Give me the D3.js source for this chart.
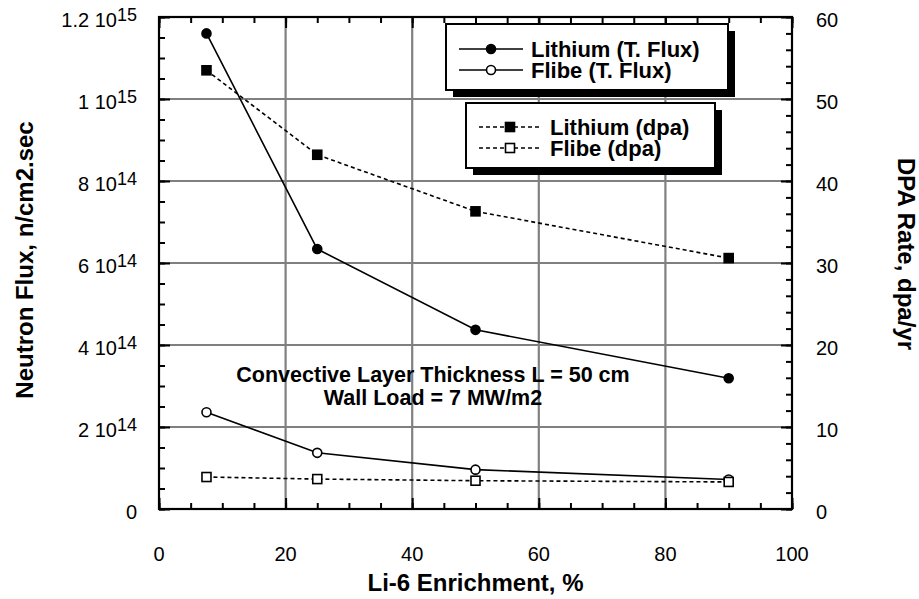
<!DOCTYPE html>
<html>
<head>
<meta charset="utf-8">
<script src="https://cdn.jsdelivr.net/npm/d3@7"></script>
<style>
  html, body { margin: 0; padding: 0; background: #fff; }
  svg { display: block; font-family: "Liberation Sans", Arial, Helvetica, sans-serif; }
</style>
</head>
<body>
<svg id="chart" width="919" height="599"></svg>
<script>
// Li-6 enrichment (%) at which each case was computed
const enrichment = [7.5, 25, 50, 90];

// Total neutron flux, n/cm2.sec (left axis)
const lithiumFlux = [1.16e15, 6.34e14, 4.37e14, 3.19e14];
const flibeFlux   = [2.36e14, 1.37e14, 0.96e14, 0.72e14];

// Damage rate, dpa/yr (right axis)
const lithiumDpa = [53.5, 43.2, 36.3, 30.6];
const flibeDpa   = [3.9, 3.65, 3.45, 3.3];

// Tick values
const xTicks = [0, 20, 40, 60, 80, 100];
const fluxTicks = [0, 2e14, 4e14, 6e14, 8e14, 1e15, 1.2e15];
const dpaTicks = [0, 10, 20, 30, 40, 50, 60];

const svg = d3.select("#chart");
const plotLeft = 159, plotRight = 792, plotTop = 17, plotBottom = 509;

const x = d3.scaleLinear().domain([0, 100]).range([plotLeft, plotRight]);
const yFlux = d3.scaleLinear().domain([0, 1.2e15]).range([plotBottom, plotTop]);
const yDpa = d3.scaleLinear().domain([0, 60]).range([plotBottom, plotTop]);

// Grid
const grid = svg.append("g").attr("stroke", "#808080").attr("stroke-width", 2.2);
grid.selectAll("line.vx").data(xTicks.filter(d => d > 0 && d < 100)).join("line")
  .attr("class", "vx")
  .attr("x1", d => x(d)).attr("x2", d => x(d)).attr("y1", plotTop).attr("y2", plotBottom);
grid.selectAll("line.hy").data(fluxTicks.filter(d => d > 0 && d < 1.2e15)).join("line")
  .attr("class", "hy")
  .attr("x1", plotLeft).attr("x2", plotRight).attr("y1", d => yFlux(d)).attr("y2", d => yFlux(d));

// Axes with inward ticks (short minor, long major)
function inward(makeAxis, g, major, minor) {
  g.call(makeAxis().tickValues(minor).tickSize(6).tickFormat(""));
  g.append("g").call(makeAxis().tickValues(major).tickSize(11).tickFormat(""));
  g.selectAll(".domain").remove();
  g.selectAll("line").attr("stroke", "#000").attr("stroke-width", 2);
}
const xMinor = d3.range(0, 101, 5);
const fluxMinor = d3.range(0, 1.2e15 + 1, 5e13);
const dpaMinor = d3.range(0, 61, 2);

inward(() => d3.axisTop(x), svg.append("g").attr("transform", `translate(0,${plotBottom})`), xTicks, xMinor);
inward(() => d3.axisBottom(x), svg.append("g").attr("transform", `translate(0,${plotTop})`), xTicks, xMinor);
inward(() => d3.axisRight(yFlux), svg.append("g").attr("transform", `translate(${plotLeft},0)`), fluxTicks, fluxMinor);
inward(() => d3.axisLeft(yDpa), svg.append("g").attr("transform", `translate(${plotRight},0)`), dpaTicks, dpaMinor);

// Frame
svg.append("rect").attr("x", plotLeft).attr("y", plotTop)
  .attr("width", plotRight - plotLeft).attr("height", plotBottom - plotTop)
  .attr("fill", "none").attr("stroke", "#000").attr("stroke-width", 2.2);

// Tick labels
svg.append("g").selectAll("text").data(xTicks).join("text")
  .attr("x", d => x(d)).attr("y", 561).attr("text-anchor", "middle")
  .attr("font-size", 20).text(d => d);

const fluxLabels = svg.append("g").selectAll("text").data(fluxTicks).join("text")
  .attr("x", 137).attr("y", d => yFlux(d) + 10).attr("text-anchor", "end").attr("font-size", 20);
fluxLabels.each(function(d) {
  const t = d3.select(this);
  if (d === 0) { t.text("0"); return; }
  const e = Math.floor(Math.log10(d) + 1e-9);
  const m = +(d / Math.pow(10, e)).toFixed(2);
  t.append("tspan").text(m + " 10");
  t.append("tspan").attr("dy", -6).attr("font-size", 18).text(e);
});

svg.append("g").selectAll("text").data(dpaTicks).join("text")
  .attr("x", 816).attr("y", d => yDpa(d) + 10).attr("text-anchor", "start")
  .attr("font-size", 20).text(d => d);

// Axis titles
svg.append("text").attr("x", x(50)).attr("y", 591).attr("text-anchor", "middle")
  .attr("font-size", 24).attr("font-weight", "bold").text("Li-6 Enrichment, %");
svg.append("text").attr("transform", "translate(33,260) rotate(-90)").attr("text-anchor", "middle")
  .attr("font-size", 24).attr("font-weight", "bold").text("Neutron Flux, n/cm2.sec");
svg.append("text").attr("transform", "translate(898,254) rotate(90)").attr("text-anchor", "middle")
  .attr("font-size", 24).attr("font-weight", "bold").text("DPA Rate, dpa/yr");

// Annotation
svg.append("text").attr("x", 433).attr("y", 382).attr("text-anchor", "middle")
  .attr("font-size", 21.5).attr("font-weight", "bold").text("Convective Layer Thickness L = 50 cm");
svg.append("text").attr("x", 433).attr("y", 405).attr("text-anchor", "middle")
  .attr("font-size", 21.5).attr("font-weight", "bold").text("Wall Load = 7 MW/m2");

// Series
const series = [
  { name: "Lithium (T. Flux)", vals: lithiumFlux, y: yFlux, shape: "circle", fill: "#000", dash: null },
  { name: "Flibe (T. Flux)",   vals: flibeFlux,   y: yFlux, shape: "circle", fill: "#fff", dash: null },
  { name: "Lithium (dpa)",     vals: lithiumDpa,  y: yDpa,  shape: "square", fill: "#000", dash: "4,3" },
  { name: "Flibe (dpa)",       vals: flibeDpa,    y: yDpa,  shape: "square", fill: "#fff", dash: "4,3" }
];

function marker(g, shape, fill, cx, cy) {
  if (shape === "circle") {
    g.append("circle").attr("cx", cx).attr("cy", cy).attr("r", 4.5)
      .attr("fill", fill).attr("stroke", "#000").attr("stroke-width", 1.6);
  } else {
    g.append("rect").attr("x", cx - 4.5).attr("y", cy - 4.5).attr("width", 9).attr("height", 9)
      .attr("fill", fill).attr("stroke", "#000").attr("stroke-width", 1.6);
  }
}

const plot = svg.append("g");
series.forEach(s => {
  const pts = enrichment.map((e, i) => [x(e), s.y(s.vals[i])]);
  plot.append("path").attr("d", d3.line()(pts)).attr("fill", "none")
    .attr("stroke", "#000").attr("stroke-width", 1.6).attr("stroke-dasharray", s.dash);
  pts.forEach(p => marker(plot, s.shape, s.fill, p[0], p[1]));
});

// Legends: boxes with drop shadow
function legendBox(bx, by, bw, bh, items, lx1, lx2, rowY, textX) {
  const g = svg.append("g");
  g.append("rect").attr("x", bx + 7).attr("y", by + 7).attr("width", bw).attr("height", bh).attr("fill", "#000");
  g.append("rect").attr("x", bx).attr("y", by).attr("width", bw).attr("height", bh)
    .attr("fill", "#fff").attr("stroke", "#000").attr("stroke-width", 2);
  items.forEach((s, i) => {
    const yy = rowY[i];
    g.append("line").attr("x1", lx1).attr("x2", lx2).attr("y1", yy).attr("y2", yy)
      .attr("stroke", "#000").attr("stroke-width", 1.6).attr("stroke-dasharray", s.dash);
    marker(g, s.shape, s.fill, (lx1 + lx2) / 2, yy);
    g.append("text").attr("x", textX).attr("y", yy + 7.5).attr("font-size", 22)
      .attr("font-weight", "bold").text(s.name);
  });
}
legendBox(446, 24, 282, 66, series.slice(0, 2), 459, 523, [49, 70], 531);
legendBox(466, 103, 249, 65, series.slice(2, 4), 479, 541, [127, 148], 550);
</script>
</body>
</html>
